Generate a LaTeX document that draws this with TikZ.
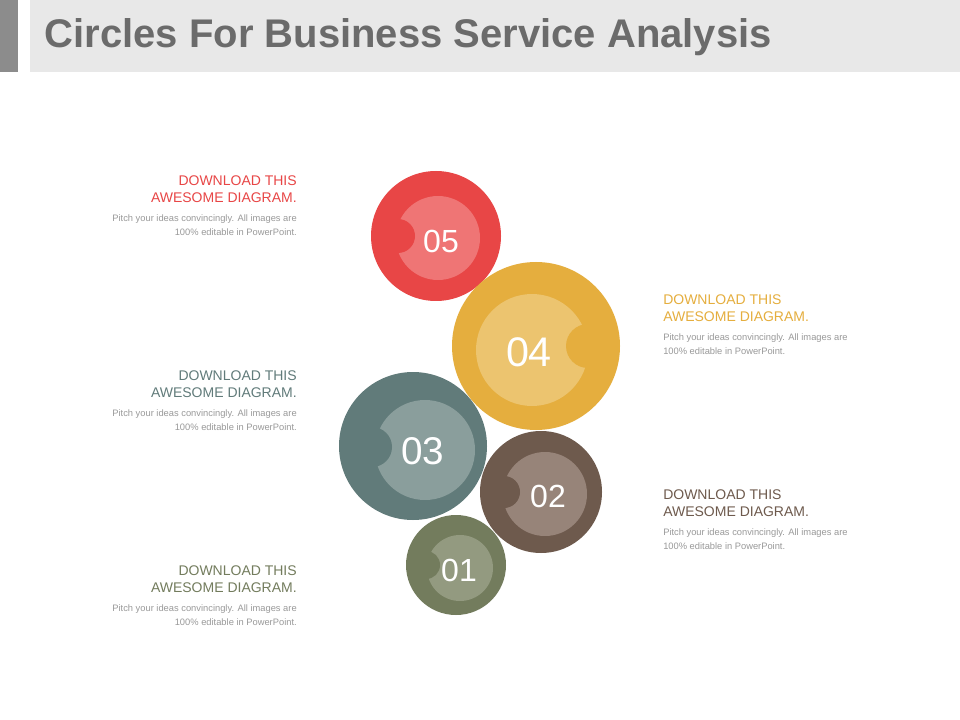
\documentclass[tikz,border=0pt]{standalone}
\usepackage{fontspec}
\setmainfont{Liberation Sans}
\begin{document}
\begin{tikzpicture}[x=0.75pt,y=-0.75pt,
  head/.style={font=\fontsize{10.5}{13}\selectfont, inner sep=0pt},
  body/.style={font=\fontsize{7}{10.5}\selectfont, text=black!40, inner sep=0pt},
  num/.style={text=white, font=\fontsize{24}{24}\selectfont, inner sep=0pt}]
\definecolor{cr}{HTML}{E84646}\definecolor{crl}{HTML}{EF7575}
\definecolor{cy}{HTML}{E5AE3E}\definecolor{cyl}{HTML}{ECC46F}
\definecolor{ct}{HTML}{617B7A}\definecolor{ctl}{HTML}{8A9E9C}
\definecolor{cb}{HTML}{6E5A4D}\definecolor{cbl}{HTML}{978479}
\definecolor{co}{HTML}{737C5D}\definecolor{col}{HTML}{939A80}
\useasboundingbox (0,0) rectangle (960,720);
\fill[white] (0,0) rectangle (960,720);
\fill[gray!90] (0,0) rectangle (18,72);
\fill[black!9] (30,0) rectangle (960,72);
\node[anchor=west, text=black!58, font=\bfseries\fontsize{30}{30}\selectfont] (title) at (40,37) {Circles For Business Service Analysis};
% 05
\fill[cr] (436,236) circle (65); \fill[crl] (438,238) circle (42); \fill[cr] (398,236) circle (17);
% 04
\fill[cy] (536,346) circle (84); \fill[cyl] (532,350) circle (56); \fill[cy] (588,346) circle (22);
% 03
\fill[ct] (413,446) circle (74); \fill[ctl] (425,450) circle (50); \fill[ct] (372,447) circle (20);
% 02
\fill[cb] (541,492) circle (61); \fill[cbl] (545,494) circle (42); \fill[cb] (504,492) circle (16);
% 01
\fill[co] (456,565) circle (50); \fill[col] (460,568) circle (33); \fill[co] (426,565) circle (14);
\node[num] (n5) at (441,241) {05};
\node[num, font=\fontsize{31}{31}\selectfont] (n4) at (529,352) {04};
\node[num, font=\fontsize{29}{29}\selectfont] (n3) at (423,451) {03};
\node[num] (n2) at (548,496) {02};
\node[num] (n1) at (459,570) {01};
% texts
\node[head, text=cr, anchor=north east, align=right] (h5) at (297,175) {DOWNLOAD THIS\\AWESOME DIAGRAM.};
\node[body, anchor=north east, align=right] (b5) at (297,214) {Pitch your ideas convincingly. All images are\\100\% editable in PowerPoint.};
\node[head, text=ct, anchor=north east, align=right] (h3) at (297,370) {DOWNLOAD THIS\\AWESOME DIAGRAM.};
\node[body, anchor=north east, align=right] (b3) at (297,409) {Pitch your ideas convincingly. All images are\\100\% editable in PowerPoint.};
\node[head, text=co, anchor=north east, align=right] (h1) at (297,565) {DOWNLOAD THIS\\AWESOME DIAGRAM.};
\node[body, anchor=north east, align=right] (b1) at (297,604) {Pitch your ideas convincingly. All images are\\100\% editable in PowerPoint.};
\node[head, text=cy, anchor=north west, align=left] (h4) at (663,294) {DOWNLOAD THIS\\AWESOME DIAGRAM.};
\node[body, anchor=north west, align=left] (b4) at (663,333) {Pitch your ideas convincingly. All images are\\100\% editable in PowerPoint.};
\node[head, text=cb, anchor=north west, align=left] (h2) at (663,489) {DOWNLOAD THIS\\AWESOME DIAGRAM.};
\node[body, anchor=north west, align=left] (b2) at (663,528) {Pitch your ideas convincingly. All images are\\100\% editable in PowerPoint.};
\end{tikzpicture}
\end{document}
